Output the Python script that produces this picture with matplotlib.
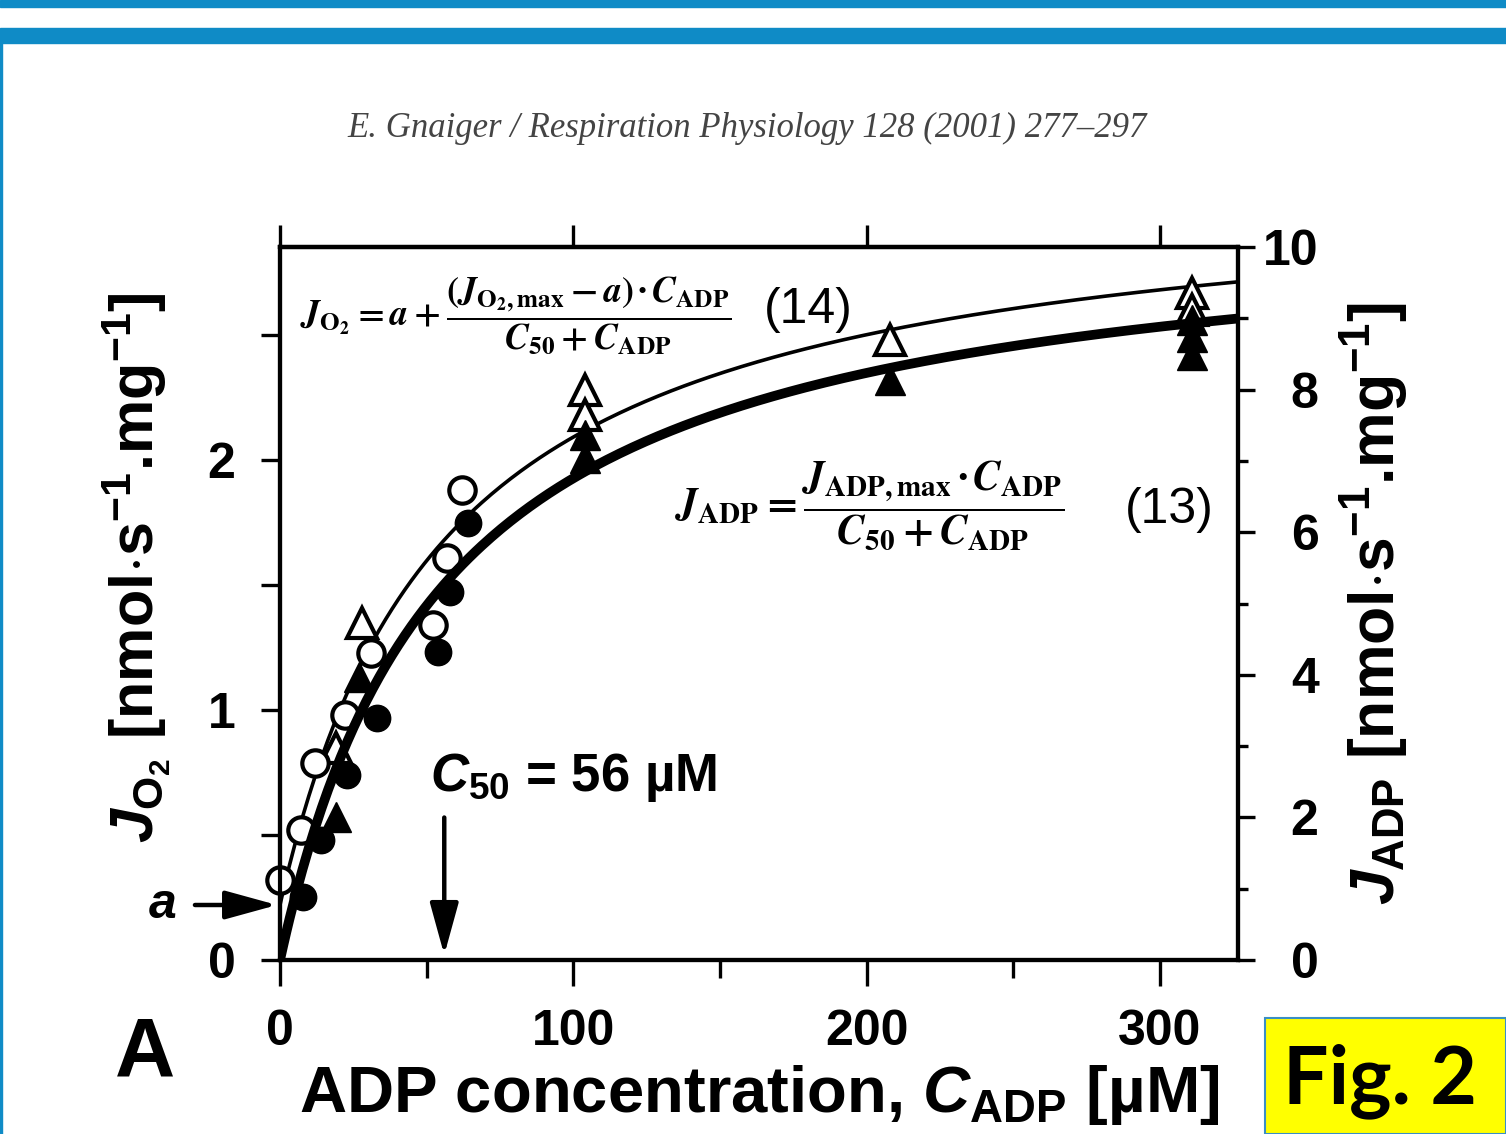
import matplotlib
matplotlib.use('Agg')
import matplotlib.pyplot as plt
import numpy as np
from matplotlib.patches import Rectangle
from matplotlib.ticker import MultipleLocator, NullLocator

plt.rcParams['font.family'] = ['Liberation Sans', 'DejaVu Sans']
plt.rcParams['font.weight'] = 'bold'
plt.rcParams['axes.labelweight'] = 'bold'
plt.rcParams['mathtext.fontset'] = 'custom'
plt.rcParams['mathtext.rm'] = 'Liberation Sans:bold'
plt.rcParams['mathtext.it'] = 'Liberation Sans:italic:bold'
plt.rcParams['mathtext.bf'] = 'Liberation Sans:bold'

# data
# open symbols: oxygen flux J_O2 (left axis)
open_circ_c = [0, 7, 12, 22, 31, 52, 57, 62]
open_circ_j = [0.32, 0.52, 0.79, 0.98, 1.23, 1.34, 1.61, 1.88]
open_tri_c = [19, 28, 104, 104, 208, 311, 311]
open_tri_j = [0.85, 1.35, 2.28, 2.18, 2.48, 2.67, 2.60]

# filled symbols: ADP flux J_ADP (right axis)
fill_circ_c = [8, 14, 23, 33, 54, 58, 64]
fill_circ_j = [0.88, 1.68, 2.59, 3.39, 4.32, 5.16, 6.13]
fill_tri_c = [19, 27, 104, 104, 208, 311, 311, 311]
fill_tri_j = [2.0, 3.97, 7.36, 7.04, 8.13, 8.98, 8.74, 8.49]

# hyperbolic fits, eq. (13) and (14)
c50 = 56
a_o2 = 0.22
jmax_o2 = 3.14
jmax_adp = 10.54

c = np.linspace(0, 326.6, 300)
fit_o2 = a_o2 + (jmax_o2 - a_o2) * c / (c50 + c)
fit_adp = jmax_adp * c / (c50 + c)

fig = plt.figure(figsize=(15.06, 11.34), dpi=100)

# page decoration
blue = '#0f8bc6'
fig.patches.append(Rectangle((0, 1 - 7/1134), 1, 7/1134, transform=fig.transFigure, color=blue))
fig.patches.append(Rectangle((0, 1 - 43/1134), 1, 15/1134, transform=fig.transFigure, color=blue))
fig.patches.append(Rectangle((0, 0), 2/1506, 1 - 43/1134, transform=fig.transFigure, color=blue))
fig.patches.append(Rectangle((1265/1506, 0), 241/1506, 116/1134, transform=fig.transFigure,
                             facecolor='#ffff00', edgecolor='#3a8fc4', lw=1.5))
fig.text(1380/1506, 1 - 1081/1134, 'Fig. 2', fontsize=58, fontweight='bold', family='Lato',
         ha='center', va='center')
fig.text(747/1506, 1 - 128/1134, 'E. Gnaiger / Respiration Physiology 128 (2001) 277\u2013297',
         fontsize=25, fontweight='normal', style='italic', family='Liberation Serif',
         color='#444444', ha='center', va='center')

ax = fig.add_axes([280/1506, 1 - 960/1134, 958/1506, 713/1134])
ax2 = ax.twinx()

ax.plot(c, fit_o2, color='black', lw=2.6, zorder=2)
ax2.plot(c, fit_adp, color='black', lw=7, zorder=2)

ax.plot(open_tri_c, open_tri_j, '^', ms=22, mfc='white', mec='black', mew=3, zorder=3, clip_on=False)
ax.plot(open_circ_c, open_circ_j, 'o', ms=19, mfc='white', mec='black', mew=3, zorder=3, clip_on=False)
ax2.plot(fill_tri_c, fill_tri_j, '^', ms=22, color='black', zorder=3, clip_on=False)
ax2.plot(fill_circ_c, fill_circ_j, 'o', ms=19, color='black', zorder=3, clip_on=False)

ax.set_xlim(0, 326.6)
ax.set_ylim(0, 2.852)
ax2.set_ylim(0, 10)

for a_ in (ax, ax2):
    for s in a_.spines.values():
        s.set_linewidth(3)

ax.set_xticks([0, 100, 200, 300])
ax.xaxis.set_minor_locator(MultipleLocator(50))
ax.set_yticks([0, 1, 2])
ax.yaxis.set_minor_locator(MultipleLocator(0.5))
ax.tick_params(axis='x', which='major', direction='out', length=19, width=2.4,
               labelsize=36, pad=16)
ax.tick_params(axis='x', which='minor', direction='out', length=13, width=2.4)
ax.tick_params(axis='y', which='both', direction='out', length=14, width=2.4,
               labelsize=36, pad=18)

ax2.set_yticks([0, 2, 4, 6, 8, 10])
ax2.yaxis.set_minor_locator(MultipleLocator(1))
ax2.tick_params(axis='y', which='major', direction='out', length=12, width=2.4,
                labelsize=36, pad=46)
ax2.tick_params(axis='y', which='minor', direction='out', length=7, width=2.4)
for lab in ax2.get_yticklabels():
    lab.set_ha('right')

top = ax.secondary_xaxis('top')
top.set_xticks([0, 100, 200, 300])
top.xaxis.set_minor_locator(NullLocator())
top.tick_params(direction='out', length=16, width=2.4, labeltop=False)
top.spines['top'].set_linewidth(3)

ax.set_xlabel(r'ADP concentration, $C_{\mathrm{ADP}}$ [µM]', fontsize=47, labelpad=6)
ax.set_ylabel(r'$J_{\mathrm{O_2}}$ [nmol$\cdot$s$^{\mathrm{-1}}$.mg$^{\mathrm{-1}}$]', fontsize=44)
ax.yaxis.set_label_coords(-0.112, 0.55)
ax2.set_ylabel(r'$J_{\mathrm{ADP}}$ [nmol$\cdot$s$^{\mathrm{-1}}$.mg$^{\mathrm{-1}}$]', fontsize=45,
               labelpad=14, rotation=90)

# equations
ax.text(6.8, 2.58,
        r'$J_{\mathrm{O_2}} = a + \dfrac{(J_{\mathrm{O_2,max}} - a)\,·\,C_{\mathrm{ADP}}}{C_{50} + C_{\mathrm{ADP}}}$',
        math_fontfamily='stix', fontsize=26, fontweight='normal', ha='left', va='center')
ax.text(165, 2.6, '(14)', fontsize=36, fontweight='normal', ha='left', va='center')
ax.text(134.7, 1.82,
        r'$J_{\mathrm{ADP}} = \dfrac{J_{\mathrm{ADP,max}}\,·\,C_{\mathrm{ADP}}}{C_{50} + C_{\mathrm{ADP}}}$',
        math_fontfamily='stix', fontsize=30, fontweight='normal', ha='left', va='center')
ax.text(288, 1.80, '(13)', fontsize=36, fontweight='normal', ha='left', va='center')

# C50 marker and intercept a
ax.text(51, 0.73, r'$C_{50}$ = 56 µM', fontsize=38, ha='left', va='center')
arrow = dict(arrowstyle='-|>,head_length=0.8,head_width=0.22', lw=3.2, color='black',
             mutation_scale=40, shrinkA=0, shrinkB=0)
ax.annotate('', xy=(c50, 0.02), xytext=(c50, 0.57), arrowprops=arrow, annotation_clip=False)
ax.annotate('', xy=(-1, a_o2), xytext=(-29, a_o2), arrowprops=arrow, annotation_clip=False)
ax.text(-40, a_o2, 'a', fontsize=36, style='italic', ha='center', va='center')

fig.text(145/1506, 1 - 1055/1134, 'A', fontsize=60, fontweight='bold', ha='center', va='center')

fig.savefig('out.png', dpi=100)
